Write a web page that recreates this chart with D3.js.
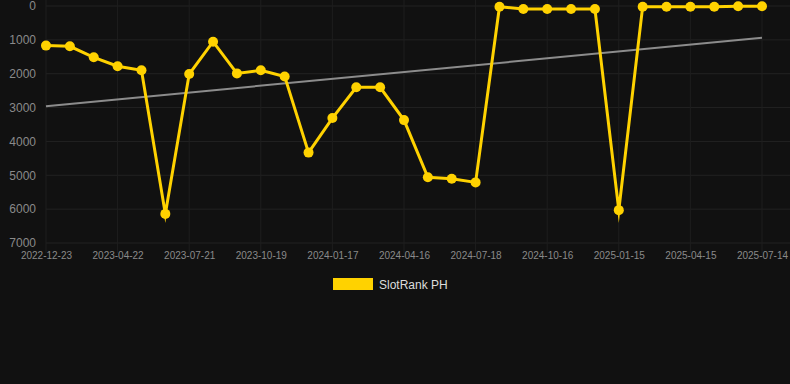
<!DOCTYPE html>
<html>
<head>
<meta charset="utf-8">
<script src="https://cdnjs.cloudflare.com/ajax/libs/d3/7.8.5/d3.min.js"></script>
<style>
  body { margin: 0; background: #111111; font-family: Arial, 'Liberation Sans', sans-serif; }
</style>
</head>
<body>
<div id="chart"></div>
<script>
// categories (monthly snapshots)
var dates = ["2022-12-23","2023-01-22","2023-02-21","2023-04-22","2023-05-22","2023-06-21",
  "2023-07-21","2023-08-20","2023-09-19","2023-10-19","2023-11-18","2023-12-18",
  "2024-01-17","2024-02-16","2024-03-17","2024-04-16","2024-05-16","2024-06-17",
  "2024-07-18","2024-08-17","2024-09-16","2024-10-16","2024-11-15","2024-12-15",
  "2025-01-15","2025-02-14","2025-03-16","2025-04-15","2025-05-15","2025-06-14","2025-07-14"];

// rank values
var ranks = [1170, 1190, 1515, 1780, 1900, 6140, 2010, 1055, 1990, 1900, 2080, 4330,
  3310, 2400, 2400, 3370, 5060, 5100, 5210, 20, 90, 90, 90, 90,
  6030, 20, 20, 20, 20, 5, 5];

// trend line at first and last category
var trendValues = [2960, 940];

var yTicks = [0, 1000, 2000, 3000, 4000, 5000, 6000, 7000];
var seriesName = "SlotRank PH";

var W = 790, H = 384;
var margin = {top: 6, left: 46, right: 28};
var plotBottom = 243;

var svg = d3.select("#chart").append("svg")
  .attr("width", W).attr("height", H);

svg.append("rect").attr("width", W).attr("height", H).attr("fill", "#111111");

var x = d3.scalePoint()
  .domain(dates)
  .range([margin.left, W - margin.right]);

var y = d3.scaleLinear()
  .domain([0, 7000])
  .range([margin.top, plotBottom]);

var labelDates = dates.filter(function (d, i) { return i % 3 === 0; });

// grid
var grid = svg.append("g");
grid.selectAll(".hg").data(yTicks).enter().append("line")
  .attr("x1", margin.left).attr("x2", W)
  .attr("y1", function (d) { return y(d); }).attr("y2", function (d) { return y(d); })
  .attr("stroke", "#222222").attr("stroke-width", 1);
grid.selectAll(".vg").data(labelDates).enter().append("line")
  .attr("x1", function (d) { return x(d); }).attr("x2", function (d) { return x(d); })
  .attr("y1", 0).attr("y2", plotBottom + 10)
  .attr("stroke", "#1e1e1e").attr("stroke-width", 1);

// y axis
var yAxis = svg.append("g")
  .attr("transform", "translate(" + (margin.left - 10) + ",0)")
  .call(d3.axisLeft(y).tickValues(yTicks).tickSize(0).tickPadding(0).tickFormat(d3.format("d")));
yAxis.select(".domain").remove();
yAxis.selectAll("text").attr("fill", "#8a8a8a").style("font-size", "12px")
  .style("font-family", "Arial, 'Liberation Sans', sans-serif");

// x axis
var xAxis = svg.append("g")
  .attr("transform", "translate(0," + (plotBottom + 9) + ")")
  .call(d3.axisBottom(x).tickValues(labelDates).tickSize(0).tickPadding(0));
xAxis.select(".domain").remove();
xAxis.selectAll("text").attr("fill", "#8a8a8a").style("font-size", "10px")
  .style("font-family", "Arial, 'Liberation Sans', sans-serif");

// trend line
svg.append("line")
  .attr("x1", x(dates[0])).attr("y1", y(trendValues[0]))
  .attr("x2", x(dates[dates.length - 1])).attr("y2", y(trendValues[1]))
  .attr("stroke", "#8c8c8c").attr("stroke-width", 2);

// series line
var data = dates.map(function (d, i) { return {date: d, rank: ranks[i]}; });
var line = d3.line()
  .x(function (d) { return x(d.date); })
  .y(function (d) { return y(d.rank); });

svg.append("path").datum(data)
  .attr("d", line)
  .attr("fill", "none")
  .attr("stroke", "#ffd200")
  .attr("stroke-width", 3)
  .attr("stroke-linejoin", "miter")
  .attr("stroke-miterlimit", 10);

svg.append("g").selectAll("circle").data(data).enter().append("circle")
  .attr("cx", function (d) { return x(d.date); })
  .attr("cy", function (d) { return y(d.rank); })
  .attr("r", 5)
  .attr("fill", "#ffd200");

// legend
var legend = svg.append("g").attr("transform", "translate(333,278)");
legend.append("rect").attr("width", 40).attr("height", 12).attr("fill", "#ffd200");
legend.append("text").attr("x", 46).attr("y", 10.5)
  .attr("fill", "#dddddd").style("font-size", "12px")
  .style("font-family", "Arial, 'Liberation Sans', sans-serif")
  .text(seriesName);
</script>
</body>
</html>
